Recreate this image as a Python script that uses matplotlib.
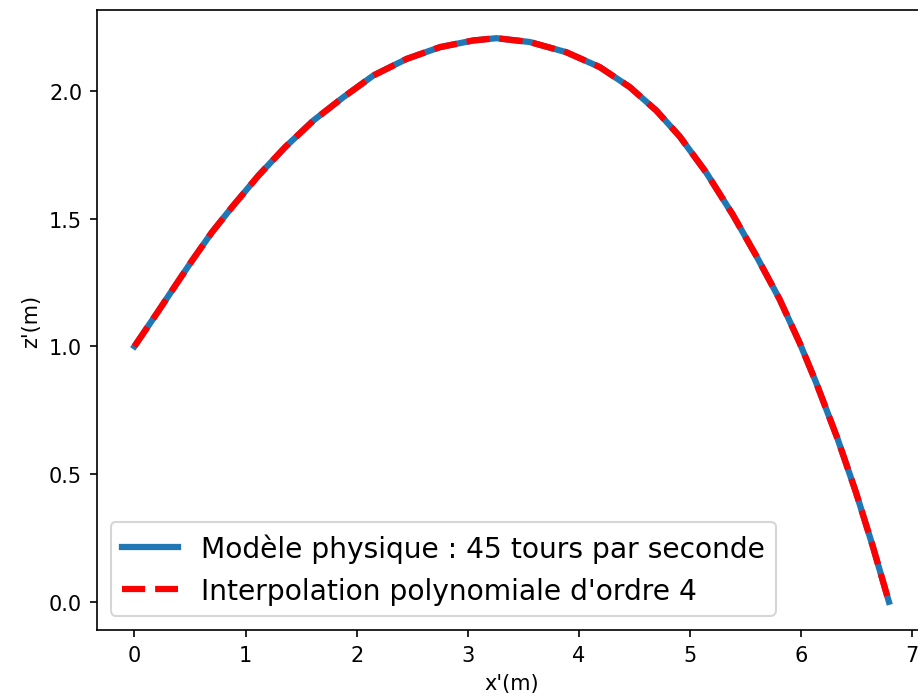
import matplotlib
matplotlib.use("Agg")
import matplotlib.pyplot as plt

# points (x' in m, z' in m)
x_model = [0.0, 0.218, 0.368, 0.519, 0.698, 0.878, 1.117, 1.357, 1.611, 1.880,
           2.150, 2.450, 2.750, 3.048, 3.258, 3.558, 3.887, 4.187, 4.457, 4.696,
           4.906, 5.146, 5.385, 5.595, 5.804, 5.984, 6.133, 6.328, 6.493, 6.643, 6.79]
z_model = [1.0, 1.14, 1.238, 1.336, 1.447, 1.545, 1.669, 1.780, 1.884, 1.975,
           2.060, 2.125, 2.171, 2.197, 2.206, 2.191, 2.151, 2.093, 2.015, 1.923,
           1.822, 1.68, 1.515, 1.355, 1.186, 1.016, 0.86, 0.638, 0.429, 0.220, 0.0]

# the order-4 fit sits on top of the model curve in the reference
x_poly = list(x_model)
z_poly = list(z_model)

label_model = "Modèle physique : 45 tours par seconde"
label_poly = "Interpolation polynomiale d'ordre 4"

fig = plt.figure(figsize=(918 / 150, 701 / 150), dpi=150)
ax = fig.add_axes([0.1054, 0.0999, 0.904, 0.8844])

ax.plot(x_model, z_model, color="#1f77b4", lw=3, label=label_model)
ax.plot(x_poly, z_poly, color="red", lw=3, ls="--", label=label_poly)

ax.set_xlabel("x'(m)")
ax.set_ylabel("z'(m)")
ax.set_yticks([0.0, 0.5, 1.0, 1.5, 2.0])
ax.legend(loc="lower left", fontsize=13.5)

fig.savefig("out.png", dpi=150)
